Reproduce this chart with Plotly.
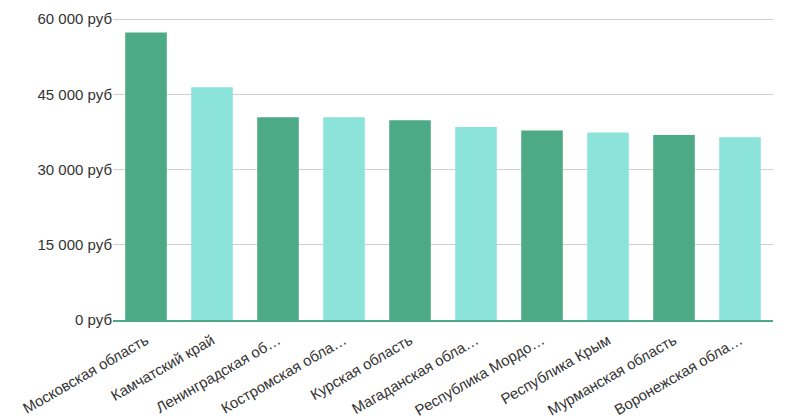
import plotly.graph_objects as go

categories = ["Московская область", "Камчатский край", "Ленинградская об…",
              "Костромская обла…", "Курская область", "Магаданская обла…",
              "Республика Мордо…", "Республика Крым", "Мурманская область",
              "Воронежская обла…"]
values = [57300, 46400, 40400, 40400, 39800, 38450, 37800, 37400, 36900, 36450]
tick_vals = [0, 15000, 30000, 45000, 60000]
tick_text = ["0 руб", "15 000 руб", "30 000 руб", "45 000 руб", "60 000 руб"]

dark = "#4daa87"
light = "#8be3d9"
colors = [dark if i % 2 == 0 else light for i in range(len(values))]

fig = go.Figure(go.Bar(x=categories, y=values, marker=dict(color=colors, line=dict(width=0)),
                       width=0.63))

# page body has an 8px default margin, so the figure is sized to fit the window
fig.update_layout(
    width=780, height=410,
    margin=dict(l=105, r=15, t=8, b=98),
    paper_bgcolor="white", plot_bgcolor="white",
    font=dict(family="Liberation Sans, Arial, sans-serif", color="#333333"),
    showlegend=False,
)
fig.update_yaxes(range=[0, 60600], tickvals=tick_vals, ticktext=tick_text,
                 showgrid=True, gridcolor="#d0d0d0", gridwidth=1, zeroline=False,
                 tickfont=dict(size=15, color="#333333"), ticks="", ticklen=0,
                 automargin=False)
fig.update_xaxes(tickangle=-30, tickfont=dict(size=15, color="#333333"),
                 showline=True, linecolor=dark, linewidth=2, ticks="",
                 ticklabelstandoff=4, automargin=False)

fig.write_html("out.html")
